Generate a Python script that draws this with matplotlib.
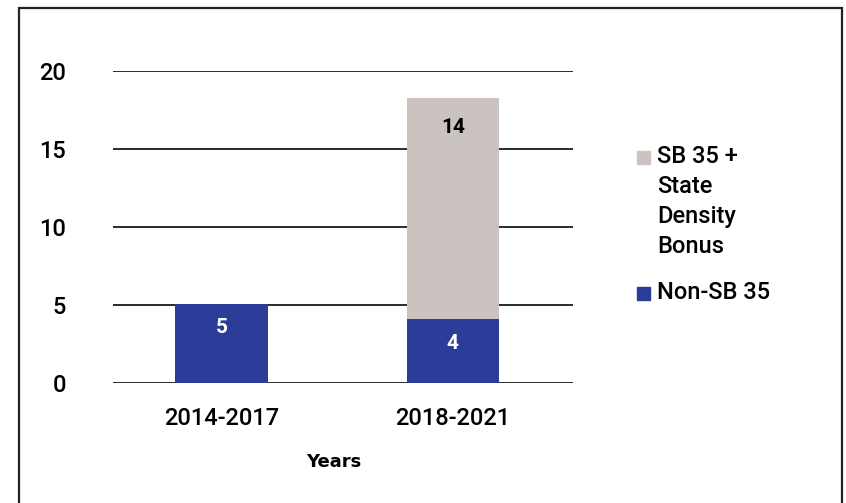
import matplotlib
matplotlib.use("Agg")
import matplotlib.pyplot as plt
from matplotlib.patches import Rectangle

plt.rcParams['font.family'] = ['Roboto', 'DejaVu Sans']

# ---- data ----
categories = ["2014-2017", "2018-2021"]
non_sb35 = [5.1, 4.1]
sb35_density = [0.0, 14.2]
non_sb35_labels = ["5", "4"]
sb35_labels = ["", "14"]
yticks = [0, 5, 10, 15, 20]
series_names = ["SB 35 +\nState\nDensity\nBonus", "Non-SB 35"]
x_title = "Years"

BLUE = "#2b3d98"
GRAY = "#cbc3c0"

W, H = 846, 503
fig = plt.figure(figsize=(W / 100, H / 100), dpi=100)
ax = fig.add_axes([113 / W, 1 - 383.3 / H, (573 - 113) / W, (383.3 - 71) / H])

x = list(range(len(categories)))
ax.bar(x, non_sb35, width=0.4, color=BLUE, zorder=3)
ax.bar(x, sb35_density, width=0.4, bottom=non_sb35, color=GRAY, zorder=3)

for i in x:
    ax.text(i, non_sb35[i] - 1.55, non_sb35_labels[i], ha="center", va="center",
            color="white", fontsize=15, fontweight="bold", zorder=4)
    if sb35_labels[i]:
        top = non_sb35[i] + sb35_density[i]
        ax.text(i, top - 1.95, sb35_labels[i], ha="center", va="center",
                color="black", fontsize=15, fontweight="bold", zorder=4)

ax.set_xlim(-0.47, 1.52)
ax.set_ylim(0, 20)
ax.set_yticks(yticks)
ax.set_yticklabels([str(v) for v in yticks], fontweight="medium")
ax.set_xticks(x)
ax.set_xticklabels(categories, fontweight="medium")
ax.yaxis.grid(True, color="#1a1a1a", linewidth=1.3, zorder=1)
ax.set_axisbelow(True)
for s in ax.spines.values():
    s.set_visible(False)
ax.tick_params(axis="both", length=0, labelsize=17, colors="black")
ax.tick_params(axis="y", pad=34)
ax.tick_params(axis="x", pad=17)

fig.text(334 / W, 1 - 462 / H, x_title, ha="center", va="center",
         fontsize=13, fontweight="bold", family=['DejaVu Sans'])

# legend (manual)
leg_colors = [GRAY, BLUE]
leg_y = [157, 293]  # pixel centres of first text line
for c, name, yy in zip(leg_colors, series_names, leg_y):
    fig.patches.append(Rectangle((637 / W, 1 - (yy + 6.5) / H), 13 / W, 13 / H,
                                 transform=fig.transFigure, color=c))
    fig.text(657 / W, 1 - (yy - 12) / H, name, ha="left", va="top",
             fontsize=17, fontweight="medium", linespacing=1.38)

# outer border
fig.patches.append(Rectangle((19 / W, -0.05), (842 - 19) / W, 1.05 - 8 / H,
                             transform=fig.transFigure, fill=False,
                             edgecolor="#222222", linewidth=1.6, clip_on=False))

fig.savefig("out.png", dpi=100)
